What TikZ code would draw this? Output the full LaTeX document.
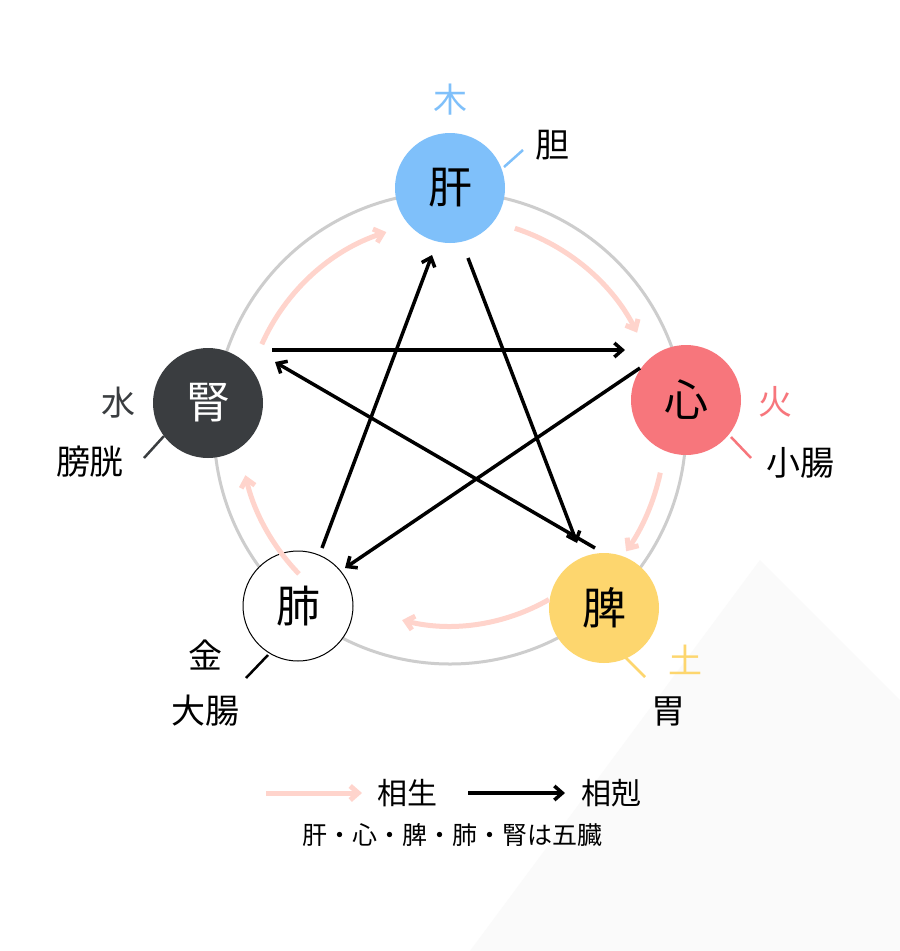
\documentclass[tikz,border=0pt]{standalone}
\usepackage{fontspec}
\setmainfont{Noto Sans CJK JP}
\usetikzlibrary{arrows.meta}
\definecolor{kanB}{RGB}{127,192,250}
\definecolor{shinR}{RGB}{247,118,124}
\definecolor{hiY}{RGB}{253,214,110}
\definecolor{jinK}{RGB}{58,61,64}
\definecolor{seiP}{RGB}{255,212,204}
\definecolor{ringG}{RGB}{205,205,205}
\definecolor{bgG}{RGB}{250,250,250}
\tikzset{
 organ/.style={circle,minimum size=110pt,inner sep=0pt,font=\fontsize{44}{44}\selectfont},
 lbl/.style={font=\fontsize{34}{34}\selectfont,inner sep=0pt},
 sei/.style={seiP,line width=5pt,-{Straight Barb[length=8pt,width=14pt]}},
 koku/.style={black,line width=3.5pt,-{Straight Barb[length=8pt,width=14pt]}},
 tick/.style={line width=2.5pt}
}
\begin{document}
\begin{tikzpicture}[x=1pt,y=-1pt]
\useasboundingbox (0,0) rectangle (900,951);
\fill[white] (0,0) rectangle (900,951);
\fill[bgG] (470,951) -- (760,560) -- (900,700) -- (900,951) -- cycle;
\draw[ringG,line width=3pt] (450,428) circle (236);
% organs
\node[organ,fill=kanB] (kan) at (450,188) {肝};
\node[organ,fill=shinR] (shin) at (686,400) {心};
\node[organ,fill=hiY] (hi) at (604,608) {脾};
\node[organ,fill=white,draw=black,line width=1pt] (hai) at (298,606) {肺};
\node[organ,fill=jinK,text=white] (jin) at (208,403) {腎};
% sousei arcs (r=210 around 450,428)
\draw[sei] (450,428) ++(-156:206) arc[start angle=-156,end angle=-108,radius=206];
\draw[sei] (450,428) ++(-72:210) arc[start angle=-72,end angle=-27,radius=210];
\draw[sei] (450,428) ++(12:215) arc[start angle=12,end angle=35,radius=215];
\draw[sei] (450,428) ++(60:198) arc[start angle=60,end angle=104,radius=198];
\draw[sei] (450,428) ++(136:210) arc[start angle=136,end angle=167,radius=210];
% soukoku
\coordinate (a1) at (468,258); \coordinate (a2) at (577,543);
\coordinate (b1) at (595,548); \coordinate (b2) at (275,362);
\coordinate (c1) at (272,350); \coordinate (c2) at (625,350);
\coordinate (d1) at (640,368); \coordinate (d2) at (345,568);
\coordinate (e1) at (322,548); \coordinate (e2) at (432,255);
\draw[koku] (a1) -- (a2);
\draw[koku] (b1) -- (b2);
\draw[koku] (c1) -- (c2);
\draw[koku] (d1) -- (d2);
\draw[koku] (e1) -- (e2);
% labels
\node[lbl,text=kanB] (moku) at (450,100) {木};
\node[lbl] (tan) at (552,145) {胆};
\draw[tick,kanB] (504,167) -- (523,150);
\node[lbl,text=shinR] (ka) at (775,402) {火};
\node[lbl] (shou) at (800,463) {小腸};
\draw[tick,shinR] (731,437) -- (751,458);
\node[lbl,text=hiY] (do) at (685,660) {土};
\node[lbl] (i) at (668,711) {胃};
\draw[tick,hiY] (625,657) -- (645,677);
\node[lbl] (kin) at (205,655) {金};
\node[lbl] (dai) at (205,711) {大腸};
\draw[tick] (268,655) -- (246,678);
\node[lbl,text=jinK] (sui) at (118,403) {水};
\node[lbl] (bou) at (90,462) {膀胱};
\draw[tick,jinK] (164,436) -- (144,458);
% legend
\coordinate (l1) at (266,793); \coordinate (l2) at (362,793);
\coordinate (l3) at (468,793); \coordinate (l4) at (565,793);
\draw[sei] (l1) -- (l2);
\draw[koku] (l3) -- (l4);
\node[lbl,font=\fontsize{30}{30}\selectfont] (ls) at (407,793) {相生};
\node[lbl,font=\fontsize{30}{30}\selectfont] (lk) at (611,793) {相剋};
\node[lbl,font=\fontsize{25}{25}\selectfont] (goz) at (452,835) {肝・心・脾・肺・腎は五臓};
\end{tikzpicture}
\end{document}
